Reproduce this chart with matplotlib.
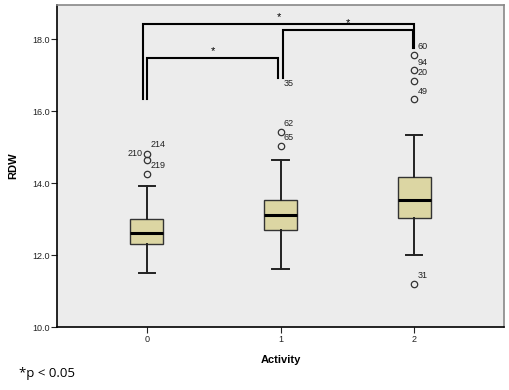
import matplotlib
matplotlib.use('Agg')
import matplotlib.pyplot as plt

# summary values
groups = [0, 1, 2]
q1 = [12.30, 12.71, 13.02]
med = [12.62, 13.12, 13.52]
q3 = [13.00, 13.52, 14.17]
whislo = [11.50, 11.60, 12.00]
whishi = [13.92, 14.63, 15.33]
fliers = [[14.82, 14.63, 14.24],
          [15.43, 15.04],
          [17.56, 17.15, 16.84, 16.34, 11.20]]

# case labels next to outliers: (group, text, y)
case_labels = [(0, '214', 15.08), (0, '219', 14.48),
               (1, '62', 15.67), (1, '65', 15.28), (1, '35', 16.78),
               (2, '60', 17.79), (2, '94', 17.36), (2, '20', 17.08),
               (2, '49', 16.56), (2, '31', 11.44)]
left_labels = [(0, '210', 14.81)]

# significance brackets: x left, x right, top, left end, right end
brackets = [(-0.03, 2.0, 18.43, 16.34, 17.75),
            (0.0, 0.985, 17.48, 16.34, 16.92),
            (1.015, 1.99, 18.25, 16.92, 17.75)]

stats = []
for i in range(len(groups)):
    stats.append(dict(med=med[i], q1=q1[i], q3=q3[i], whislo=whislo[i],
                      whishi=whishi[i], fliers=fliers[i]))

fig = plt.figure(figsize=(5.1, 3.9), dpi=100)
ax = fig.add_axes([0.112, 0.1615, 0.876, 0.8255])
ax.set_facecolor('#ececec')

ax.bxp(stats, positions=groups, widths=0.25, capwidths=0.12, patch_artist=True,
       boxprops=dict(facecolor='#dcd6a3', edgecolor='#333333', linewidth=1),
       medianprops=dict(color='black', linewidth=2.2),
       whiskerprops=dict(color='#222222', linewidth=1.4),
       capprops=dict(color='#222222', linewidth=1.4),
       flierprops=dict(marker='o', markerfacecolor='none', markeredgecolor='#333333',
                       markersize=4.6, markeredgewidth=0.9))

for g, t, y in case_labels:
    ax.text(g + 0.025, y, t, fontsize=6.5, ha='left', va='center', color='#222222',
            family='Liberation Sans')
for g, t, y in left_labels:
    ax.text(g - 0.03, y, t, fontsize=6.5, ha='right', va='center', color='#222222',
            family='Liberation Sans')

for xl, xr, top, yl, yr in brackets:
    ax.plot([xl, xl, xr, xr], [yl, top, top, yr], color='black', lw=1.5,
            solid_joinstyle='miter')
    ax.text((xl + xr) / 2, top + 0.06, '*', ha='center', va='bottom', fontsize=8,
            family='Liberation Sans')

ax.set_xlim(-0.67, 2.67)
ax.set_ylim(10, 18.95)
ax.set_xticks(groups)
ax.set_xticklabels([str(g) for g in groups])
ax.set_yticks([10, 12, 14, 16, 18])
ax.set_yticklabels(['10.0', '12.0', '14.0', '16.0', '18.0'])
ax.tick_params(labelsize=6.5, length=4, width=0.8, pad=1.5, colors='#222222')
for lab in ax.get_xticklabels() + ax.get_yticklabels():
    lab.set_family('Liberation Sans')

ax.spines['left'].set_color('black')
ax.spines['bottom'].set_color('black')
ax.spines['top'].set_color('#888888')
ax.spines['right'].set_color('#888888')
for s in ax.spines.values():
    s.set_linewidth(1.2)

ax.set_xlabel('Activity', fontsize=8, fontweight='bold', family='Liberation Sans', labelpad=8)
ax.set_ylabel('RDW', fontsize=8, fontweight='bold', family='Liberation Sans', labelpad=10)

fig.text(0.038, 1 - 373 / 390, '*p < 0.05', fontsize=9.5, ha='left', va='center',
         family='Open Sans')

fig.savefig('out.png', dpi=100)
